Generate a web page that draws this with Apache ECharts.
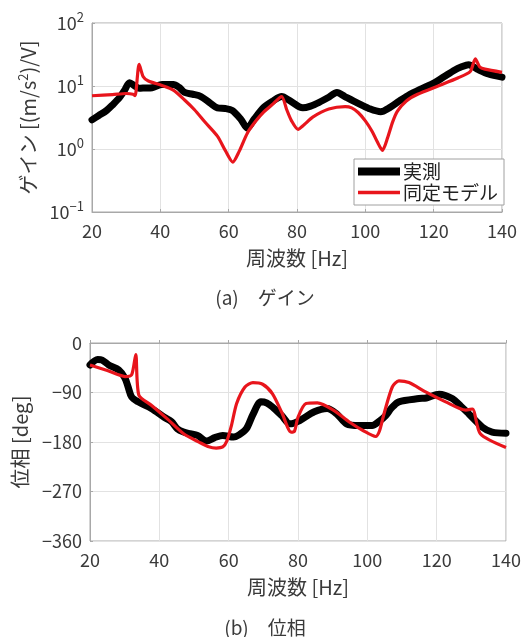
<!DOCTYPE html>
<html><head><meta charset="utf-8">
<script src="https://cdn.jsdelivr.net/npm/echarts@6/dist/echarts.min.js"></script>
<style>html,body{margin:0;padding:0;background:#fff}#c{width:530px;height:637px}</style>
</head><body><div id="c"></div>
<script>
// ---- data ----
const xTicks = [20, 40, 60, 80, 100, 120, 140];
const gainTicks = [0.1, 1, 10, 100];
const phaseTicks = [0, -90, -180, -270, -360];
const legendNames = ['実測', '同定モデル'];

const gainMeasF = [20,22,24.3,26,28.1,29.5,31,32.5,33.8,35.5,37.6,40.5,43.8,45.5,47.1,49.5,51.9,54.5,56.7,59,61,63.5,65.5,67.5,70.3,73,75.5,78,81.7,84,86.5,89,91.7,94,97.9,101,104.5,107,110,112.4,116,120.3,123,126.2,128,130.2,133.2,136,140];
const gainMeasV = [2.9,3.4,4.1,5.0,6.6,8.5,11.3,10.0,9.2,9.3,9.4,10.6,10.6,9.5,7.9,7.4,6.8,5.4,4.5,4.4,4.1,3.0,2.15,3.0,4.6,5.8,6.8,5.8,4.5,4.8,5.5,6.5,7.9,6.8,5.3,4.4,3.9,4.5,5.8,7.0,8.8,11.3,14,18,20,21.8,18,15.5,13.8];

const gainModelF = [20,26,30,32,32.6,33.8,35.0,36.5,40.5,43.8,47.1,50,53,56.7,59,61.2,63,65.5,68,70.3,73,75.5,77,78.4,80.3,82,84.6,89.3,94.1,96,97.9,100,102,103.5,105,106.5,108,109.4,112,115.3,121.3,127.2,130.7,132.2,133.5,135,140];
const gainModelV = [7.0,7.3,7.6,7.4,7.0,22,14,12,10.2,8.6,6.0,4.2,2.7,1.6,0.95,0.62,0.9,1.8,2.8,3.9,5.2,6.8,4.2,2.8,2.05,2.4,3.2,4.3,4.7,4.5,3.8,2.8,1.9,1.3,0.95,1.5,2.7,4.0,5.8,7.4,10,13.5,17,27,20,18.5,16.5];

const phaseMeasF = [20,22.2,23.5,25.4,28.3,30.1,31,32,33.9,37.7,41.4,43.5,45.2,47,48.9,51,53.6,56,58.3,61.4,63,65.1,67,69.3,71,72.6,75.3,77.7,80.5,84.7,88.4,91.2,94,97.6,101.4,103.5,105.3,107,109.1,114.9,117,120.7,124.5,127,129.3,133.2,136,140];
const phaseMeasV = [-40,-30,-31,-40,-49,-64,-80,-98,-107,-119,-135,-143,-156,-162,-165,-168,-178,-172,-168,-171,-167,-156,-130,-107,-109,-116,-132,-147,-141,-125,-119,-129,-147,-150,-150,-142,-132,-118,-107,-101,-100,-93,-101,-115,-129,-153,-162,-164];

const phaseModelF = [20,25,30.1,32,33.2,34.1,37.7,42.3,47,51.7,54,56.4,58.3,59.5,60.8,62.3,64.7,67,69.8,72.6,75.3,78,79,80,82.3,85.6,90.2,94.9,99,102.4,103.5,104.8,107.2,109.1,112,116.8,122.6,128.4,130.3,132.6,140];
const phaseModelV = [-40,-50,-61,-58,-21,-95,-113,-138,-165,-181,-188,-191,-189,-178,-150,-110,-80,-72,-75,-92,-126,-162,-160,-135,-110,-109,-122,-144,-160,-170,-160,-129,-80,-69,-72,-89,-107,-122,-120,-165,-190];

function zip(a, b) { return a.map((v, i) => [v, b[i]]); }

const FONT = '"Noto Sans CJK JP", "Noto Sans", sans-serif';
const GRID_C = '#e2e2e2';
const AXIS_C = '#a8a8a8';
const TXT = '#3a3a3a';
const RED = '#e8151c';

const chart = echarts.init(document.getElementById('c'), null, {renderer: 'canvas'});

function xAxisCfg(gridIndex) {
  return {
    gridIndex, type: 'value', min: 20, max: 140, interval: 20,
    name: '周波数 [Hz]', nameLocation: 'middle', nameGap: 36,
    nameTextStyle: {fontFamily: FONT, fontSize: 20, color: TXT},
    axisLine: {show: true, lineStyle: {color: AXIS_C}},
    axisTick: {show: true, inside: true, length: 3, lineStyle: {color: AXIS_C}},
    axisLabel: {fontFamily: FONT, fontSize: 18, color: TXT, margin: 10,
      formatter: v => xTicks.includes(v) ? String(v) : ''},
    splitLine: {show: true, lineStyle: {color: GRID_C}}
  };
}

const option = {
  animation: false,
  backgroundColor: '#fff',
  title: [
    {text: '(a)　ゲイン', left: 'center', top: 283, textStyle: {fontFamily: FONT, fontSize: 19, fontWeight: 'normal', color: TXT}},
    {text: '(b)　位相', left: 'center', top: 613, textStyle: {fontFamily: FONT, fontSize: 19, fontWeight: 'normal', color: TXT}}
  ],
  grid: [
    {left: 92, right: 28, top: 23, height: 189, show: true, borderColor: AXIS_C, borderWidth: 1, backgroundColor: 'transparent'},
    {left: 90, right: 24, top: 343, height: 198, show: true, borderColor: AXIS_C, borderWidth: 1, backgroundColor: 'transparent'}
  ],
  legend: {
    orient: 'vertical', left: 354, top: 159,
    backgroundColor: '#fff', borderColor: '#a0a0a0', borderWidth: 1, borderRadius: 0,
    padding: [3, 6, 3, 4], itemGap: 2, itemWidth: 42, itemHeight: 18,
    textStyle: {fontFamily: FONT, fontSize: 19, color: '#222', padding: [0, 0, 0, -2]},
    data: [
      {name: legendNames[0], icon: 'path://M0,0H42V8H0Z', itemStyle: {color: '#000'}},
      {name: legendNames[1], icon: 'path://M0,0H42V3.4H0Z', itemStyle: {color: RED}}
    ]
  },
  xAxis: [xAxisCfg(0), xAxisCfg(1)],
  yAxis: [
    {
      gridIndex: 0, type: 'log', logBase: 10, min: 0.1, max: 100,
      name: 'ゲイン [(m/s{sup|2})/V]', nameLocation: 'middle', nameGap: 53, nameRotate: 90,
      nameTextStyle: {fontFamily: FONT, fontSize: 20, color: TXT,
        rich: {sup: {fontFamily: FONT, fontSize: 13, color: TXT, verticalAlign: 'top', padding: [0, 0, 9, 0]}}},
      axisLine: {show: true, lineStyle: {color: AXIS_C}},
      axisTick: {show: true, inside: true, length: 3, lineStyle: {color: AXIS_C}},
      minorTick: {show: false},
      axisLabel: {
        fontFamily: FONT, fontSize: 18, color: TXT, margin: 8,
        formatter: v => {
          const e = Math.round(Math.log10(v));
          if (!gainTicks.some(t => Math.abs(Math.log10(t) - e) < 1e-6)) return '';
          return '10{sup|' + (e < 0 ? '−' + (-e) : e) + '}';
        },
        rich: {sup: {fontFamily: FONT, fontSize: 13, color: TXT, padding: [0, 0, 12, 0]}}
      },
      splitLine: {show: true, lineStyle: {color: GRID_C}}
    },
    {
      gridIndex: 1, type: 'value', min: -360, max: 0, interval: 90,
      name: '位相 [deg]', nameLocation: 'middle', nameGap: 60, nameRotate: 90,
      nameTextStyle: {fontFamily: FONT, fontSize: 20, color: TXT},
      axisLine: {show: true, lineStyle: {color: AXIS_C}},
      axisTick: {show: true, inside: true, length: 3, lineStyle: {color: AXIS_C}},
      axisLabel: {fontFamily: FONT, fontSize: 18, color: TXT, margin: 8,
        formatter: v => phaseTicks.includes(v) ? String(v).replace('-', '−') : ''},
      splitLine: {show: true, lineStyle: {color: GRID_C}}
    }
  ],
  series: [
    {name: legendNames[0], type: 'line', xAxisIndex: 0, yAxisIndex: 0, data: zip(gainMeasF, gainMeasV),
      showSymbol: false, smooth: 0.3, lineStyle: {color: '#000', width: 7, cap: 'round', join: 'round'}, itemStyle: {color: '#000'}, z: 2},
    {name: legendNames[1], type: 'line', xAxisIndex: 0, yAxisIndex: 0, data: zip(gainModelF, gainModelV),
      showSymbol: false, smooth: 0.25, lineStyle: {color: RED, width: 3.2, join: 'round'}, itemStyle: {color: RED}, z: 3},
    {name: legendNames[0], type: 'line', xAxisIndex: 1, yAxisIndex: 1, data: zip(phaseMeasF, phaseMeasV),
      showSymbol: false, smooth: 0.3, lineStyle: {color: '#000', width: 7, cap: 'round', join: 'round'}, itemStyle: {color: '#000'}, z: 2},
    {name: legendNames[1], type: 'line', xAxisIndex: 1, yAxisIndex: 1, data: zip(phaseModelF, phaseModelV),
      showSymbol: false, smooth: 0.25, lineStyle: {color: RED, width: 3.2, join: 'round'}, itemStyle: {color: RED}, z: 3}
  ]
};
chart.setOption(option);
</script></body></html>
